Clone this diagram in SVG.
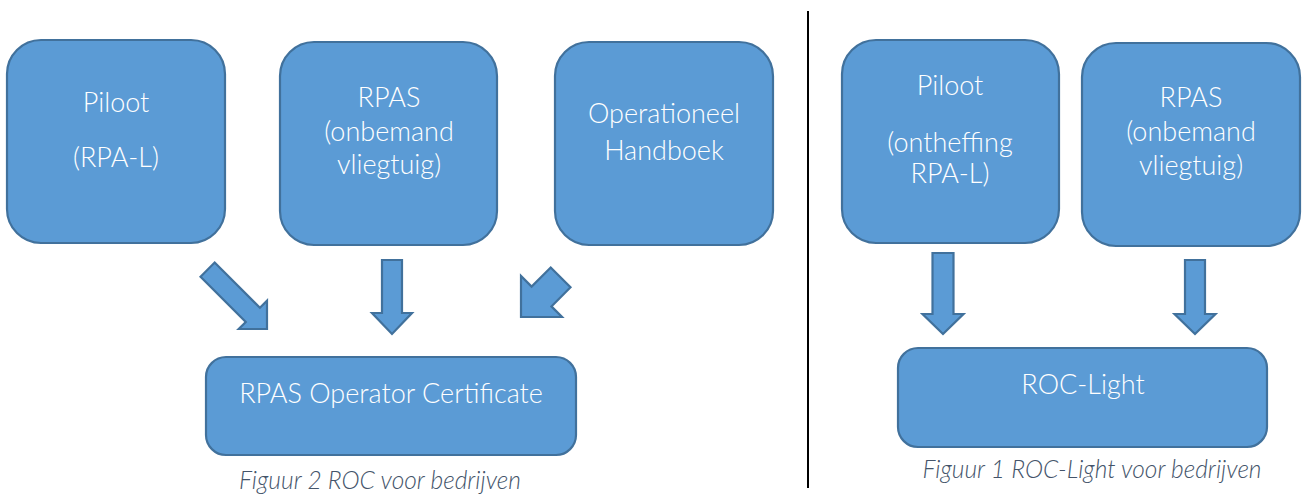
<svg xmlns="http://www.w3.org/2000/svg" width="1307" height="496" viewBox="0 0 1307 496">
<defs>
<style>
.box{fill:#5B9BD5;stroke:#41719C;stroke-width:2.2}
.arrow{fill:#5B9BD5;stroke:#41719C;stroke-width:2.2;stroke-linejoin:miter}
.t{fill:#FFFFFF;font-family:Lato,"Open Sans","Liberation Sans",sans-serif;font-weight:300;font-size:27px;text-anchor:middle}
.cap{fill:#44546A;font-family:Lato,"Open Sans","Liberation Sans",sans-serif;font-weight:300;font-style:italic;font-size:24.5px;text-anchor:middle}
</style>
</defs>
<rect width="1307" height="496" fill="#FFFFFF"/>
<line x1="808" y1="11" x2="808" y2="488" stroke="#000000" stroke-width="2"/>

<g id="node-piloot">
<rect class="box" x="7" y="40" width="218" height="203" rx="34"/>
<text class="t" x="116" y="112">Piloot</text>
<text class="t" x="116" y="167">(RPA-L)</text>
</g>
<g id="node-rpas">
<rect class="box" x="280" y="42" width="217" height="203" rx="34"/>
<text class="t" x="389" y="107">RPAS</text>
<text class="t" x="389" y="141">(onbemand</text>
<text class="t" x="389" y="174">vliegtuig)</text>
</g>
<g id="node-handboek">
<rect class="box" x="555" y="42" width="218" height="203" rx="34"/>
<text class="t" x="664" y="123">Operationeel</text>
<text class="t" x="664" y="160">Handboek</text>
</g>
<g id="node-roc">
<rect class="box" x="206" y="357" width="370" height="98" rx="20"/>
<text class="t" x="391" y="403">RPAS Operator Certificate</text>
</g>
<g id="node-piloot2">
<rect class="box" x="842" y="40" width="217" height="203" rx="34"/>
<text class="t" x="950" y="95">Piloot</text>
<text class="t" x="950" y="152">(ontheffing</text>
<text class="t" x="950" y="183">RPA-L)</text>
</g>
<g id="node-rpas2">
<rect class="box" x="1082" y="43" width="218" height="203" rx="34"/>
<text class="t" x="1191" y="107">RPAS</text>
<text class="t" x="1191" y="141">(onbemand</text>
<text class="t" x="1191" y="175">vliegtuig)</text>
</g>
<g id="node-roclight">
<rect class="box" x="898" y="348" width="369" height="99" rx="20"/>
<text class="t" x="1083" y="394">ROC-Light</text>
</g>

<g id="connectors">
<polygon class="arrow" transform="translate(267,329) rotate(-45)" points="-10,-84 10,-84 10,-20 20,-20 0,0 -20,-20 -10,-20"/>
<polygon class="arrow" transform="translate(392,334)" points="-10,-74 10,-74 10,-21 20,-21 0,0 -20,-21 -10,-21"/>
<polygon class="arrow" transform="translate(521,317) rotate(45)" points="-14,-56 14,-56 14,-29 29,-29 0,0 -29,-29 -14,-29"/>
<polygon class="arrow" transform="translate(943,334)" points="-10.5,-81 10.5,-81 10.5,-20 20.5,-20 0,0 -20.5,-20 -10.5,-20"/>
<polygon class="arrow" transform="translate(1195,334)" points="-10,-74 10,-74 10,-20 20.5,-20 0,0 -20.5,-20 -10,-20"/>
</g>

<text class="cap" x="380" y="489">Figuur 2 ROC voor bedrijven</text>
<text class="cap" x="1092" y="478">Figuur 1 ROC-Light voor bedrijven</text>
</svg>
